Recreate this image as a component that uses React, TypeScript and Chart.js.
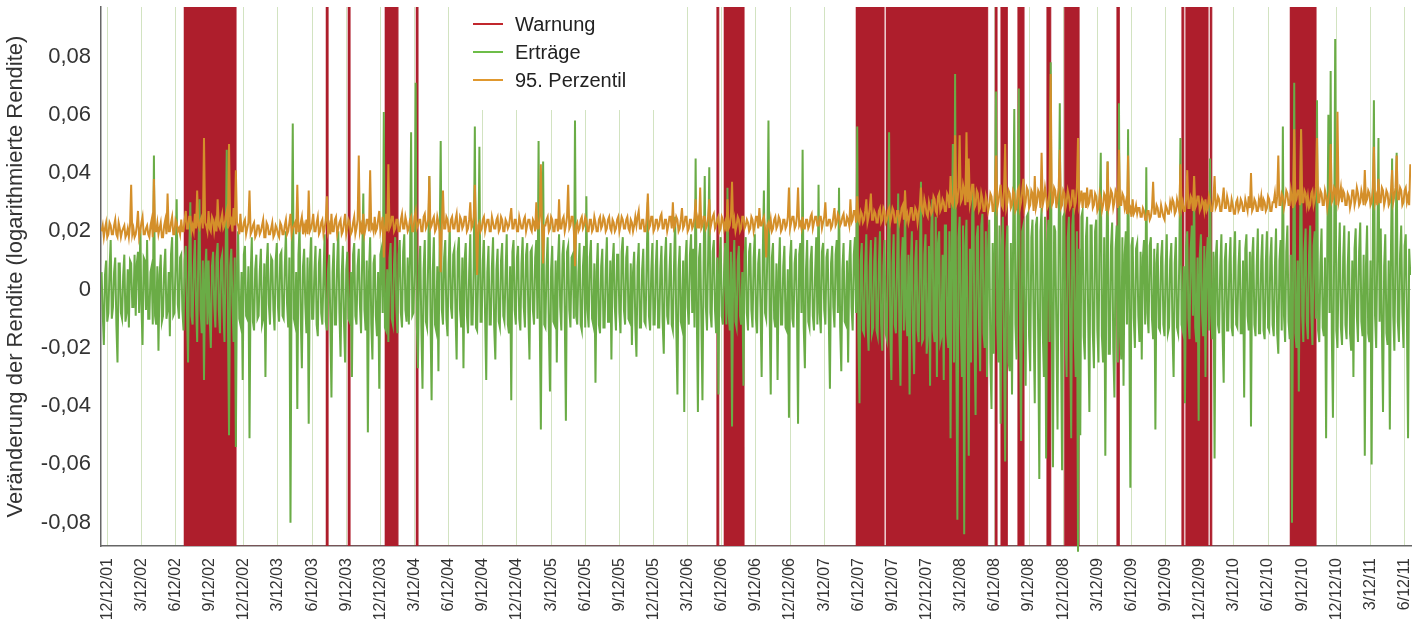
import React, { useEffect, useRef } from 'react';
import { Chart, registerables } from 'chart.js';

Chart.register(...registerables);

// ---------- DATA ----------
// quarterly x-axis tick labels (month offset from 12/12/01 in tickMonths)
const tickLabels = [
  '12/12/01', '3/12/02', '6/12/02', '9/12/02', '12/12/02', '3/12/03', '6/12/03', '9/12/03',
  '12/12/03', '3/12/04', '6/12/04', '9/12/04', '12/12/04', '3/12/05', '6/12/05', '9/12/05',
  '12/12/05', '3/12/06', '6/12/06', '9/12/06', '12/12/06', '3/12/07', '6/12/07', '9/12/07',
  '12/12/07', '3/12/08', '6/12/08', '9/12/08', '12/12/08', '3/12/09', '6/12/09', '9/12/09',
  '12/12/09', '3/12/10', '6/12/10', '9/12/10', '12/12/10', '3/12/11', '6/12/11',
];
const tickMonths = [
  0, 3, 6, 9, 12, 15, 18, 21, 24, 27, 30, 33, 36, 39, 42, 45, 48, 51, 54, 57,
  60, 63, 66, 69, 72, 75, 78, 81, 84, 87, 90, 93, 96, 99, 102, 105, 108, 111, 114,
];
const yTickValues = [-0.08, -0.06, -0.04, -0.02, 0, 0.02, 0.04, 0.06, 0.08];

// samples: first at month -0.5, ten samples per month (one row = one month)
const SAMPLE_START_MONTH = -0.5;
const SAMPLES_PER_MONTH = 10;

// Erträge (log returns) in thousandths
const returnsPermille = [
  6, -8, -19, 5, 10, -11, -8, 7, 17, -10,
  -6, 6, 11, -12, -25, 9, 9, -8, -10, 5,
  12, -11, -8, 7, -13, 10, 9, -6, -6, 12,
  -9, 9, 13, -8, 20, -5, -19, 11, 10, -7,
  17, -10, -10, 6, 8, -12, 46, -9, -12, 8,
  -21, 5, 12, -11, -9, 7, 14, -10, -7, 6,
  -16, 12, 18, -9, -8, 8, 31, -5, -10, 11,
  12, -7, -14, 10, 15, -6, -25, 12, 30, -9,
  -12, 8, 17, -5, -18, 11, 31, -7, -15, 10,
  -31, 6, 14, -12, 10, -9, -20, 8, 13, -5,
  -13, 11, 16, -7, -15, 10, 12, -6, -18, 12,
  48, -9, -50, 8, 14, -5, -18, 11, -54, 7,
  20, -10, -12, 6, -31, 12, 15, -9, -10, 8,
  -51, 5, 18, -11, -14, 7, 12, -10, -9, 6,
  14, -12, -10, 9, -30, 8, 16, -5, -12, 11,
  10, -7, -14, 10, 16, -6, -11, 12, 13, -9,
  -10, 8, 20, -5, -13, 11, -80, 7, 57, -10,
  -12, 6, -41, 12, 22, -9, -27, 8, 14, -5,
  -15, 11, -46, 7, 18, -10, -10, 6, 15, -12,
  -16, 9, 14, -8, -12, 5, 19, -11, -14, 7,
  12, -10, -37, 6, 16, -12, -12, 9, 20, -8,
  -23, 5, 15, -11, -25, 7, 13, -10, -11, 6,
  -30, 12, 16, -9, -12, 8, 14, -5, -15, 11,
  33, -7, -14, 10, -49, 6, 18, -12, -24, 9,
  12, -9, -16, 6, -34, 12, 14, -8, 61, -13,
  -14, 7, -18, 11, 16, -10, -12, 9, 18, -6,
  -15, 12, 17, -8, -13, 13, 19, -7, -11, 11,
  -12, 10, 54, -9, -8, 6, 71, -12, -27, 8,
  15, -13, -34, 7, 17, -11, -13, 10, 39, -9,
  -38, 6, 18, -12, -14, 8, -28, 13, 51, -7,
  -12, 11, 17, -10, -16, 9, 20, -6, -10, 12,
  14, -8, -24, 13, 18, -7, -13, 11, -27, 10,
  16, -9, -15, 6, 19, -12, -12, 8, 56, -13,
  -14, 7, 49, -11, -11, 10, 17, -9, -31, 6,
  15, -12, -12, 8, 18, -13, -24, 7, 14, -11,
  -13, 10, 16, -9, -11, 6, 19, -12, -15, 8,
  -38, 13, 17, -7, -12, 11, 15, -10, -14, 9,
  18, -6, -13, 12, 16, -8, -24, 13, 14, -7,
  -12, 11, 17, -10, 51, -9, -48, 6, 44, -12,
  -13, 8, 18, -13, -35, 7, 15, -11, -12, 10,
  -25, 9, 19, -6, -14, 12, 17, -8, -45, 13,
  15, -7, -13, 11, 12, -10, 58, -9, -12, 6,
  16, -12, -14, 8, 15, -13, 32, -7, -13, 11,
  17, -10, -12, 9, -32, 6, 16, -12, -15, 8,
  14, -13, -13, 7, 18, -11, -11, 10, -24, 9,
  16, -6, -14, 12, 12, -8, -15, 13, 18, -7,
  -12, 11, 15, -10, -11, 9, -19, 6, 13, -12,
  -23, 8, 16, -13, -13, 7, 14, -11, -12, 10,
  30, -9, -14, 6, 16, -12, -12, 8, 17, -13,
  -13, 7, 15, -11, -22, 10, 18, -9, -12, 6,
  16, -12, -14, 8, 25, -13, -36, 7, 15, -11,
  -13, 10, -42, 9, 17, -6, -12, 12, 19, -8,
  14, -13, 45, -7, -42, 11, 16, -10, -38, 9,
  39, -6, -14, 12, 42, -8, -13, 13, 17, -7,
  -15, 11, -36, 10, 18, -9, -12, 6, 16, -12,
  35, -8, -14, 13, -47, 7, 17, -11, -13, 10,
  15, -9, -12, 6, -33, 12, 18, -8, -14, 13,
  16, -7, -13, 11, 19, -10, -15, 9, 14, -6,
  -30, 12, 34, -8, -10, 13, 58, -7, -36, 11,
  16, -10, -13, 9, -31, 6, 18, -12, -12, 8,
  15, -13, -14, 7, -44, 11, 17, -10, -13, 9,
  14, -6, -46, 12, 16, -8, 48, -13, -27, 7,
  17, -11, -13, 10, 15, -9, -14, 6, 18, -12,
  36, -8, -15, 13, 16, -7, -12, 11, 14, -10,
  -34, 9, 15, -6, -13, 12, 17, -8, 35, -13,
  -28, 7, 16, -11, -12, 10, -25, 9, 17, -6,
  -14, 12, 18, -8, 56, -15, -39, 10, 16, -14,
  -15, 9, 19, -12, -21, 8, 17, -15, -13, 10,
  18, -14, -16, 9, 20, -12, -21, 8, 17, -15,
  -17, 10, 54, -14, -31, 9, 19, -12, -15, 8,
  33, -15, -33, 10, 18, -14, 34, -9, -16, 12,
  -36, 8, 20, -15, -29, 10, 17, -14, -18, 9,
  37, -18, -17, 12, 19, -22, -15, 15, -33, 20,
  31, -14, -18, 25, -30, 16, 20, -18, -16, 12,
  -31, 22, 22, -15, -20, 20, -51, 14, 50, -25,
  74, -16, -79, 18, 25, -12, -30, 22, -84, 15,
  24, -20, -57, 14, -25, 25, 35, -16, -43, 18,
  22, -12, -28, 22, 26, -15, -20, 20, -30, 14,
  24, -25, -41, 16, -22, 18, 68, -12, -25, 22,
  -46, 15, 25, -20, -59, 14, 22, -25, -28, 16,
  -36, 18, 62, -12, -24, 22, 69, -15, -52, 20,
  22, -14, -33, 25, 26, -16, -28, 18, 24, -12,
  -39, 22, 25, -15, -65, 20, 28, -14, -30, 25,
  -58, 16, 24, -18, 78, -12, -61, 22, 20, -15,
  -48, 20, 64, -14, -62, 25, 26, -16, -30, 18,
  25, -12, -51, 22, 28, -15, -30, 20, -90, 14,
  -50, 25, 27, -16, -24, 18, 25, -12, -42, 22,
  22, -15, -27, 20, 24, -14, -25, 25, 47, -16,
  -25, 18, -57, 12, 44, -22, -22, 15, 23, -20,
  -37, 14, 22, -25, 64, -16, -24, 18, -33, 12,
  20, -12, 55, -8, -68, 15, 18, -10, -20, 14,
  16, -9, -18, 13, -24, 11, 17, -12, 42, -8,
  -15, 15, 18, -10, -17, 14, -48, 9, 16, -13,
  -14, 11, 17, -12, -16, 8, 19, -15, -13, 10,
  16, -14, -30, 9, 18, -13, -15, 11, 52, -12,
  -14, 8, -39, 15, 20, -10, -17, 14, 22, -9,
  39, -13, -18, 11, -45, 12, 19, -8, -16, 15,
  -30, 10, 18, -14, 45, -9, -17, 13, -58, 11,
  17, -12, -15, 8, 19, -15, -32, 10, 16, -14,
  -14, 9, 18, -13, -16, 11, 20, -12, -13, 8,
  17, -15, -15, 10, -37, 14, 19, -9, -14, 13,
  -47, 11, 18, -12, -16, 8, 21, -15, -15, 10,
  19, -14, -17, 9, 20, -13, -14, 11, 18, -12,
  -16, 8, 21, -15, -22, 10, 17, -14, 56, -9,
  -18, 13, 22, -11, -17, 12, -80, 8, 71, -15,
  -20, 10, -35, 14, 55, -9, -18, 13, 21, -11,
  -17, 12, 22, -8, -19, 15, 20, -10, 65, -14,
  -18, 9, 21, -13, -16, 11, -51, 12, 60, -8,
  75, -15, -44, 10, 86, -14, -20, 9, 23, -13,
  -19, 11, 22, -12, -17, 8, 20, -15, -21, 10,
  -30, 14, 21, -9, -18, 13, 23, -11, -16, 12,
  -57, 8, 22, -15, -18, 10, -60, 14, 65, -9,
  -20, 13, 52, -11, 21, -12, -42, 8, 19, -15,
  -19, 10, -48, 14, 45, -9, -21, 13, 47, -11,
  -18, 12, 22, -8, -20, 15, 19, -10, -51, 14,
  5,
];

// 95. Perzentil in thousandths
const percentile95Permille = [
  20, 22, 18, 21, 23, 18, 19, 23, 22, 19,
  19, 22, 24, 19, 18, 23, 21, 18, 20, 21,
  22, 18, 19, 21, 18, 22, 36, 19, 21, 18,
  19, 22, 27, 18, 20, 23, 25, 19, 19, 21,
  22, 19, 18, 22, 24, 18, 38, 20, 20, 23,
  19, 21, 23, 18, 18, 22, 24, 19, 33, 20,
  20, 23, 25, 19, 19, 24, 23, 20, 21, 19,
  24, 20, 20, 24, 27, 21, 21, 25, 25, 20,
  22, 20, 26, 21, 34, 22, 21, 24, 25, 21,
  52, 23, 22, 20, 27, 21, 20, 25, 24, 20,
  23, 20, 31, 22, 21, 24, 26, 21, 22, 25,
  27, 21, 50, 23, 24, 20, 28, 22, 41, 23,
  22, 19, 26, 20, 20, 23, 24, 19, 21, 23,
  34, 19, 20, 22, 23, 18, 19, 22, 22, 19,
  20, 22, 24, 18, 18, 23, 22, 19, 19, 21,
  23, 18, 19, 22, 21, 19, 18, 23, 22, 19,
  19, 22, 24, 19, 20, 23, 26, 19, 21, 22,
  23, 19, 36, 20, 20, 23, 25, 19, 22, 20,
  24, 19, 34, 20, 21, 23, 26, 20, 20, 23,
  25, 19, 20, 23, 24, 19, 21, 24, 32, 20,
  22, 19, 26, 20, 20, 24, 25, 19, 21, 23,
  24, 19, 20, 23, 26, 19, 21, 24, 23, 19,
  20, 23, 25, 19, 21, 24, 46, 20, 22, 19,
  26, 19, 21, 24, 24, 20, 41, 21, 22, 20,
  25, 20, 21, 24, 27, 20, 22, 25, 11, 21,
  26, 20, 43, 21, 22, 25, 25, 20, 21, 24,
  24, 20, 20, 24, 26, 21, 21, 25, 23, 20,
  21, 24, 25, 20, 20, 25, 27, 21, 22, 24,
  24, 20, 20, 25, 26, 21, 22, 24, 39, 21,
  22, 24, 25, 20, 21, 25, 23, 20, 6, 22,
  34, 21, 21, 25, 24, 20, 20, 24, 25, 21,
  21, 24, 26, 20, 20, 25, 24, 21, 22, 25,
  25, 20, 21, 24, 30, 21, 22, 25, 36, 21,
  5, 22, 23, 20, 21, 24, 25, 20, 22, 24,
  24, 20, 20, 25, 23, 21, 21, 24, 25, 20,
  21, 25, 24, 20, 20, 24, 23, 21, 22, 25,
  28, 21, 21, 24, 24, 20, 20, 25, 23, 21,
  21, 24, 25, 20, 22, 24, 24, 21, 20, 24,
  23, 20, 30, 21, 21, 25, 43, 21, 9, 22,
  22, 24, 25, 20, 21, 25, 24, 20, 20, 24,
  24, 20, 31, 21, 21, 24, 25, 20, 22, 25,
  36, 21, 22, 25, 25, 20, 8, 22, 23, 20,
  21, 24, 25, 21, 22, 25, 24, 20, 20, 24,
  24, 20, 21, 25, 23, 20, 20, 24, 25, 21,
  22, 25, 24, 20, 21, 24, 25, 21, 20, 24,
  23, 20, 21, 24, 25, 20, 22, 25, 24, 21,
  21, 24, 25, 21, 20, 24, 23, 20, 22, 25,
  22, 25, 27, 21, 21, 24, 24, 20, 20, 25,
  33, 21, 22, 25, 25, 20, 21, 24, 24, 21,
  22, 25, 26, 21, 21, 24, 24, 20, 22, 25,
  25, 21, 30, 21, 22, 25, 24, 20, 21, 24,
  28, 21, 22, 25, 25, 20, 21, 24, 24, 21,
  22, 25, 31, 21, 24, 21, 35, 21, 22, 25,
  25, 21, 22, 25, 31, 21, 23, 25, 26, 21,
  22, 24, 25, 20, 21, 25, 24, 21, 23, 20,
  31, 21, 22, 25, 37, 21, 24, 20, 22, 25,
  24, 20, 21, 25, 25, 21, 22, 24, 23, 20,
  21, 25, 24, 20, 22, 25, 25, 21, 28, 22,
  22, 24, 25, 21, 11, 22, 23, 21, 24, 20,
  21, 24, 25, 21, 22, 25, 24, 20, 21, 24,
  24, 21, 22, 25, 35, 21, 23, 25, 25, 21,
  22, 25, 35, 22, 23, 21, 25, 21, 21, 24,
  24, 21, 22, 25, 26, 21, 23, 25, 25, 22,
  22, 25, 25, 21, 23, 25, 30, 22, 22, 24,
  24, 21, 22, 25, 28, 22, 23, 26, 25, 22,
  23, 25, 26, 22, 22, 25, 24, 22, 31, 23,
  24, 27, 27, 23, 32, 24, 23, 27, 26, 23,
  24, 27, 31, 23, 25, 28, 33, 24, 24, 27,
  26, 23, 23, 27, 28, 23, 24, 28, 27, 23,
  24, 27, 28, 23, 25, 28, 27, 23, 23, 27,
  27, 23, 25, 28, 29, 24, 34, 24, 26, 23,
  25, 28, 28, 24, 24, 28, 27, 23, 26, 29,
  35, 27, 26, 31, 29, 26, 25, 30, 28, 26,
  27, 32, 31, 27, 26, 32, 33, 27, 28, 31,
  30, 27, 27, 33, 32, 28, 39, 30, 29, 33,
  53, 29, 30, 35, 53, 30, 31, 36, 34, 29,
  54, 30, 45, 29, 31, 36, 36, 28, 29, 34,
  33, 27, 28, 33, 31, 27, 27, 32, 30, 27,
  29, 33, 32, 27, 27, 34, 46, 28, 30, 33,
  36, 29, 28, 34, 50, 28, 30, 34, 33, 28,
  29, 34, 33, 27, 28, 34, 35, 28, 30, 34,
  38, 28, 30, 35, 34, 28, 29, 34, 33, 27,
  39, 28, 30, 34, 33, 28, 47, 29, 31, 35,
  32, 28, 29, 34, 74, 29, 30, 35, 34, 28,
  31, 35, 48, 28, 29, 34, 33, 28, 30, 34,
  32, 28, 29, 34, 34, 28, 30, 35, 52, 29,
  31, 34, 28, 33, 33, 28, 35, 29, 30, 34,
  34, 28, 29, 33, 32, 27, 28, 33, 31, 27,
  29, 33, 32, 27, 44, 28, 30, 34, 33, 28,
  30, 34, 33, 28, 48, 29, 29, 33, 32, 28,
  30, 26, 46, 27, 28, 25, 31, 26, 27, 29,
  26, 28, 28, 25, 25, 28, 27, 24, 24, 27,
  27, 24, 25, 28, 37, 26, 26, 29, 28, 25,
  25, 29, 27, 25, 24, 29, 28, 26, 26, 30,
  28, 31, 30, 26, 27, 31, 29, 27, 43, 28,
  30, 27, 27, 31, 41, 28, 28, 32, 31, 27,
  39, 28, 29, 32, 32, 27, 28, 31, 30, 27,
  31, 27, 28, 32, 30, 27, 27, 31, 39, 28,
  29, 32, 31, 27, 27, 31, 35, 28, 28, 32,
  30, 27, 27, 31, 29, 26, 26, 30, 31, 27,
  28, 31, 30, 27, 27, 31, 29, 27, 32, 28,
  40, 27, 28, 31, 30, 27, 27, 31, 29, 32,
  27, 31, 30, 27, 28, 32, 31, 27, 27, 30,
  30, 33, 28, 32, 46, 29, 29, 33, 32, 28,
  30, 34, 33, 29, 29, 34, 31, 28, 55, 30,
  31, 34, 34, 29, 55, 30, 30, 34, 33, 29,
  32, 28, 29, 33, 34, 29, 31, 35, 52, 30,
  30, 34, 33, 29, 29, 34, 32, 28, 31, 34,
  50, 30, 31, 35, 34, 29, 61, 30, 32, 35,
  30, 34, 33, 29, 29, 33, 32, 28, 30, 34,
  34, 29, 31, 35, 33, 29, 30, 34, 32, 29,
  41, 30, 31, 34, 33, 29, 30, 35, 49, 30,
  32, 29, 38, 30, 30, 35, 34, 29, 31, 34,
  33, 29, 30, 34, 41, 30, 32, 35, 46, 31,
  31, 35, 34, 29, 30, 34, 35, 30, 32, 29,
  43,
];

// warning periods (month offsets from 12/12/01)
const warningStarts = [6.74, 19.22, 21.15, 24.4, 27.13, 53.55, 54.19, 65.79, 68.43, 78.01, 78.51, 80.0, 82.55, 84.1, 88.7, 94.41, 94.76, 96.9, 103.93];
const warningEnds = [11.31, 19.4, 21.33, 25.54, 27.3, 53.73, 55.95, 68.25, 77.36, 78.18, 79.09, 80.55, 82.9, 85.39, 88.93, 94.59, 96.72, 97.05, 106.21];

const seriesLabels = ['Warnung', 'Erträge', '95. Perzentil'];
const seriesColors = ['#ae1e2c', '#6aac46', '#d48f2a'];
const legendColors = ['#c1272d', '#6dbd48', '#e0982e'];

const Y_MIN = -0.088;
const Y_MAX = 0.097;
const X_MIN = -0.55;
const X_MAX = 114.56;

const FONT = '"Liberation Sans", Arial, Helvetica, sans-serif';

export default function App() {
  const canvasRef = useRef<HTMLCanvasElement | null>(null);

  useEffect(() => {
    const canvas = canvasRef.current;
    if (!canvas) return;

    const toPoints = (arr: number[]) =>
      arr.map((v, i) => ({ x: SAMPLE_START_MONTH + i / SAMPLES_PER_MONTH, y: v / 1000 }));

    const warningPoints: { x: number; y: number }[] = [];
    warningStarts.forEach((s, i) => {
      const e = warningEnds[i];
      warningPoints.push({ x: s, y: Y_MIN }, { x: s, y: Y_MAX }, { x: e, y: Y_MAX }, { x: e, y: Y_MIN });
    });

    const legendPlugin = {
      id: 'customLegend',
      beforeDatasetsDraw(chart: any) {
        const { ctx, chartArea } = chart;
        ctx.save();
        ctx.fillStyle = '#ffffff';
        ctx.fillRect(455, chartArea.top - 1, 210, 104);
        ctx.restore();
      },
      afterDraw(chart: any) {
        const { ctx } = chart;
        ctx.save();
        seriesLabels.forEach((label, i) => {
          const y = 24 + i * 28;
          ctx.strokeStyle = legendColors[i];
          ctx.lineWidth = 2;
          ctx.beginPath();
          ctx.moveTo(473, y);
          ctx.lineTo(503, y);
          ctx.stroke();
          ctx.fillStyle = '#222';
          ctx.font = `20px ${FONT}`;
          ctx.textBaseline = 'middle';
          ctx.textAlign = 'left';
          ctx.fillText(label, 515, y + 1);
        });
        ctx.restore();
      },
    };

    const chart = new Chart(canvas, {
      type: 'line',
      data: {
        datasets: [
          {
            label: seriesLabels[2],
            data: toPoints(percentile95Permille),
            borderColor: seriesColors[2],
            borderWidth: 2,
            pointRadius: 0,
            tension: 0,
            order: 0,
          },
          {
            label: seriesLabels[1],
            data: toPoints(returnsPermille),
            borderColor: seriesColors[1],
            borderWidth: 2,
            pointRadius: 0,
            tension: 0,
            order: 1,
            clip: { left: 0, top: 0, right: 0, bottom: 10 } as any,
          },
          {
            label: seriesLabels[0],
            data: warningPoints,
            borderColor: seriesColors[0],
            backgroundColor: seriesColors[0],
            borderWidth: 0.5,
            pointRadius: 0,
            tension: 0,
            fill: 'start',
            order: 2,
          },
        ],
      },
      options: {
        animation: false,
        responsive: false,
        events: [],
        layout: { padding: { top: 7, right: 14, left: 0, bottom: 0 } },
        plugins: {
          legend: { display: false },
          tooltip: { enabled: false },
        },
        scales: {
          x: {
            type: 'linear',
            min: X_MIN,
            max: X_MAX,
            afterBuildTicks: (scale: any) => {
              scale.ticks = tickMonths.map((v) => ({ value: v }));
            },
            afterFit: (scale: any) => {
              scale.height = 79;
              scale.paddingLeft = 0;
              scale.paddingRight = 0;
            },
            ticks: {
              autoSkip: false,
              minRotation: 90,
              maxRotation: 90,
              padding: 12,
              color: '#333',
              font: { family: FONT, size: 16 },
              callback: (_v: any, idx: number) => tickLabels[idx],
            },
            grid: { color: '#d2e3c1', lineWidth: 1, drawTicks: false },
            border: { display: true, color: '#666', width: 1.5 },
          },
          y: {
            type: 'linear',
            min: Y_MIN,
            max: Y_MAX,
            afterBuildTicks: (scale: any) => {
              scale.ticks = yTickValues.map((v) => ({ value: v }));
            },
            afterFit: (scale: any) => {
              scale.width = 101;
              scale.paddingTop = 0;
              scale.paddingBottom = 0;
            },
            ticks: {
              padding: 10,
              color: '#333',
              font: { family: FONT, size: 22 },
              callback: (v: any) => (v === 0 ? '0' : Number(v).toFixed(2).replace('.', ',')),
            },
            grid: {
              drawTicks: false,
              lineWidth: 1,
              color: (c: any) => (c.tick && c.tick.value === 0 ? 'rgba(140,150,130,0.55)' : 'rgba(0,0,0,0)'),
            },
            border: { display: true, color: '#666', width: 1.5 },
            title: {
              display: true,
              text: 'Veränderung der Rendite (logarithmierte Rendite)',
              color: '#333',
              font: { family: FONT, size: 22 },
              padding: { top: 3, bottom: 3 },
            },
          },
        },
      },
      plugins: [legendPlugin],
    } as any);

    return () => chart.destroy();
  }, []);

  return (
    <div style={{ position: 'absolute', left: 0, top: 0, width: 1425, height: 625, background: '#fff' }}>
      <canvas ref={canvasRef} width={1425} height={625} style={{ display: 'block' }} />
    </div>
  );
}
